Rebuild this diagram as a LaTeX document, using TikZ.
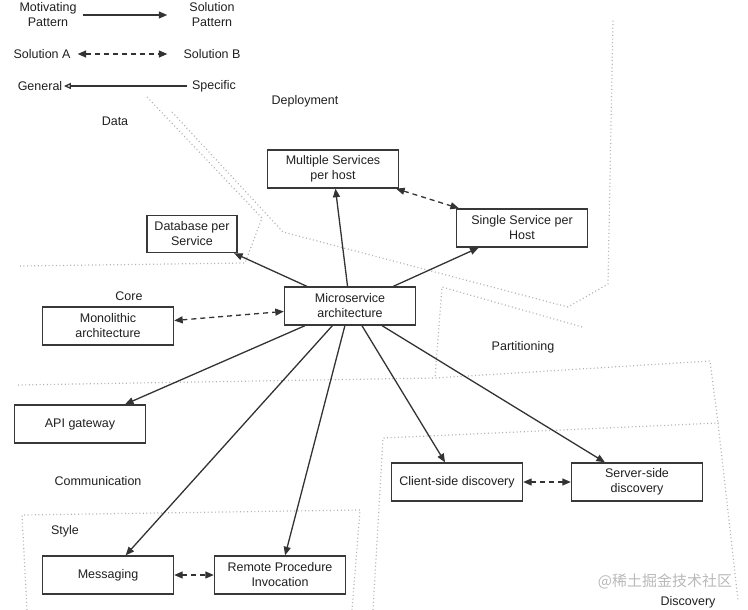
\documentclass[tikz,border=0pt]{standalone}
\usepackage{fontspec}
\setmainfont{Liberation Sans}
\newfontfamily\cjk{Noto Sans CJK SC}
\usetikzlibrary{arrows,arrows.meta}

\begin{document}
\begin{tikzpicture}[->,>={Triangle[length=8.5pt,width=7pt]},x=1pt,y=-1pt,
                    line width=1.3pt,draw=black!80,text=black!88,
                    font=\fontsize{12.5}{15}\selectfont]

  \tikzstyle{patbox}=[rectangle,draw=black!78,line width=1.4pt,align=center,
                      minimum width=131pt,minimum height=38pt,inner sep=3pt]
  \tikzstyle{caption}=[align=center,inner sep=2pt]
  \tikzstyle{alt}=[<->,dash pattern=on 5pt off 4pt]
  \tikzstyle{region}=[-,draw=gray!60,line width=1.2pt,dash pattern=on 1pt off 2.6pt]

  \useasboundingbox (0,0) rectangle (748,610);

  % legend
  \node[caption] (MOT)  at (48,15)  {Motivating\\Pattern};
  \node[caption] (SOLP) at (212,15) {Solution\\Pattern};
  \node[caption] (SOLA) at (42,54)  {Solution A};
  \node[caption] (SOLB) at (212,54) {Solution B};
  \node[caption] (GEN)  at (40,86)  {General};
  \node[caption] (SPEC) at (214,86) {Specific};

  % regions
  \draw[region] (147,97) -- (262,218) -- (245,263) -- (20,266);
  \draw[region] (172,112) -- (283,232) -- (568,307) -- (608,284) -- (613,20);
  \draw[region] (582,327) -- (442,287) -- (435,378);
  \draw[region] (18,385) -- (435,378) -- (710,361) -- (718,423);
  \draw[region] (373,610) -- (383,438) -- (718,423) -- (738,600);
  \draw[region] (27,610) -- (22,515) -- (360,510) -- (352,610);

  \node[caption] (DEPL) at (305,101) {Deployment};
  \node[caption] (DATA) at (115,121) {Data};
  \node[caption] (CORE) at (129,296) {Core};
  \node[caption] (PART) at (523,347) {Partitioning};
  \node[caption] (COMM) at (98,481)  {Communication};
  \node[caption] (STYL) at (65,531)  {Style};
  \node[caption] (DISC) at (688,602) {Discovery};

  % patterns
  \node[patbox] (MSA)  at (350,306) {Microservice\\architecture};
  \node[patbox] (MSH)  at (333,169) {Multiple Services\\per host};
  \node[patbox] (SSH)  at (522,228) {Single Service per\\Host};
  \node[patbox,minimum width=90pt,minimum height=37pt]
                (DBS)  at (192,234) {Database per\\Service};
  \node[patbox] (MONO) at (108,326) {Monolithic\\architecture};
  \node[patbox] (APIG) at (80,424)  {API gateway};
  \node[patbox] (CSD)  at (457,482) {Client-side discovery};
  \node[patbox] (SSD)  at (637,482) {Server-side\\discovery};
  \node[patbox] (MSG)  at (108,575) {Messaging};
  \node[patbox] (RPI)  at (280,575) {Remote Procedure\\Invocation};

  \node[text=gray!55,font=\cjk\fontsize{15}{15}\selectfont]
                (WMK)  at (665,581) {@稀土掘金技术社区};

  \path
  (MOT)  edge [shorten <=3.5pt,shorten >=19.5pt]      (SOLP)
  (SOLA) edge [alt,shorten <=4.5pt,shorten >=13.5pt]  (SOLB)
  (SPEC) edge [-{Triangle[open,length=7pt,width=6pt]},shorten <=2pt,shorten >=-1pt] (GEN)

  (MSA)  edge (DBS)
  (MSA)  edge (MSH)
  (MSA)  edge (SSH)
  (MSA)  edge (APIG)
  (MSA)  edge (MSG)
  (MSA)  edge (RPI)
  (MSA)  edge (CSD)
  (MSA)  edge (SSD)

  (MONO) edge [alt] (MSA)
  (MSH)  edge [alt] (SSH)
  (CSD)  edge [alt] (SSD)
  (MSG)  edge [alt] (RPI)
  ;
\end{tikzpicture}
\end{document}
